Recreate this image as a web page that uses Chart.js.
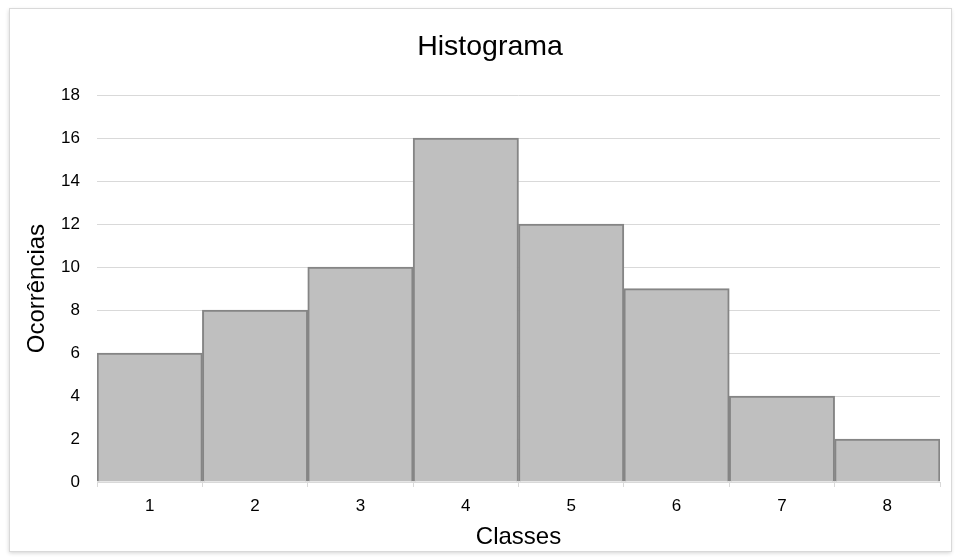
<!DOCTYPE html>
<html>
<head>
<meta charset="utf-8">
<script src="https://cdn.jsdelivr.net/npm/chart.js@4/dist/chart.umd.min.js"></script>
<style>
	html, body { margin: 0; padding: 0; background: #fff; }
	#wrap { width: 958px; height: 560px; }
</style>
</head>
<body>
<div id="wrap"><canvas id="chartHist" width="958" height="560"></canvas></div>
<script>
const classes = ['1', '2', '3', '4', '5', '6', '7', '8'];
const ocorrencias = [6, 8, 10, 16, 12, 9, 4, 2];
const yTicks = [0, 2, 4, 6, 8, 10, 12, 14, 16, 18];

const fonte = "'Liberation Sans', Arial, sans-serif";

// moldura cinza em volta do grafico
const moldura = {
	id: 'moldura',
	afterLayout(chart) {
		// titulo um pouco mais a direita, como no original
		chart.titleBlock.left += 14;
		chart.titleBlock.right += 14;
	},
	beforeDraw(chart) {
		const ctx = chart.ctx;
		ctx.save();
		ctx.fillStyle = '#fff';
		ctx.fillRect(0, 0, chart.width, chart.height);
		ctx.shadowColor = 'rgba(0,0,0,0.18)';
		ctx.shadowBlur = 4;
		ctx.shadowOffsetX = -1;
		ctx.shadowOffsetY = 1;
		ctx.fillRect(9.5, 8.5, 942, 543);
		ctx.shadowColor = 'transparent';
		ctx.strokeStyle = '#d9d9d9';
		ctx.lineWidth = 1;
		ctx.strokeRect(9.5, 8.5, 942, 543);
		ctx.restore();
	}
};

let ctxHist = document.getElementById('chartHist').getContext('2d');

let hist = new Chart(ctxHist, {
	type: 'bar',
	data: {
		labels: classes,
		datasets: [
			{
				label: 'Ocorrências',
				data: ocorrencias,
				backgroundColor: '#bfbfbf',
				borderColor: '#858585',
				borderWidth: 2,
				barPercentage: 1,
				categoryPercentage: 1,
			},
		],
	},
	options: {
		responsive: false,
		animation: false,
		layout: {
			padding: { top: 10, left: 12, right: 18, bottom: 8 },
		},
		plugins: {
			legend: { display: false },
			tooltip: { enabled: false },
			title: {
				display: true,
				text: 'Histograma',
				color: '#000',
				font: { family: fonte, size: 28.5, weight: 'normal' },
				padding: { top: 20, bottom: 31 },
			},
		},
		scales: {
			x: {
				grid: {
					offset: true,
					drawOnChartArea: false,
					drawTicks: true,
					tickLength: 5,
					color: '#d9d9d9',
				},
				border: { display: true, color: '#d9d9d9' },
				ticks: {
					color: '#000',
					padding: 9,
					font: { family: fonte, size: 17 },
				},
				title: {
					display: true,
					text: 'Classes',
					color: '#000',
					font: { family: fonte, size: 24 },
					padding: { top: 0, bottom: 0 },
				},
				afterFit(scale) { scale.height = 70; },
			},
			y: {
				min: 0,
				max: 18,
				afterBuildTicks(scale) {
					scale.ticks = yTicks.map(v => ({ value: v }));
				},
				grid: {
					drawTicks: false,
					color: '#d9d9d9',
				},
				border: { display: false },
				ticks: {
					color: '#000',
					padding: 17,
					font: { family: fonte, size: 17 },
				},
				title: {
					display: true,
					text: 'Ocorrências',
					color: '#000',
					font: { family: fonte, size: 24 },
					padding: { top: 10.6, bottom: 0 },
				},
				afterFit(scale) { scale.width = 85; },
			},
		},
	},
	plugins: [moldura],
});
</script>
</body>
</html>
